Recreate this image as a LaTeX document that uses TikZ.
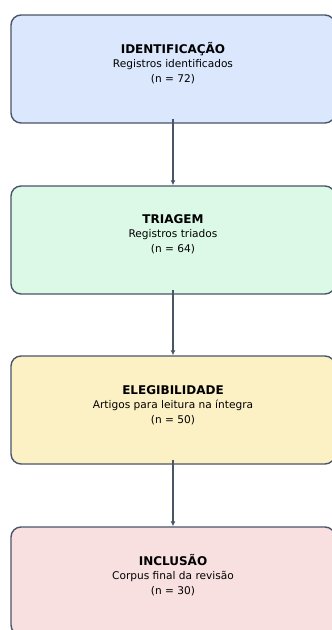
\documentclass[tikz,border=0pt]{standalone}
\usepackage{fontspec}
\setmainfont{DejaVu Sans}
\usetikzlibrary{arrows.meta}
\definecolor{bordc}{HTML}{4A5568}
\definecolor{cblue}{HTML}{DAE7FC}
\definecolor{cgreen}{HTML}{DCF9E7}
\definecolor{cyellow}{HTML}{FCF0C5}
\definecolor{cpink}{HTML}{F8DFE0}
\tikzset{
  stagebox/.style={draw=bordc, line width=1.4pt, rounded corners=10pt, minimum width=324pt, minimum height=108pt, inner sep=0pt},
  stagetext/.style={align=center, text=black, font=\fontsize{10.6}{14.5}\selectfont},
  flowarrow/.style={draw=bordc, line width=2pt, -{Latex[length=5pt,width=5pt]}}
}
\begin{document}
\begin{tikzpicture}[x=1pt,y=-1pt]
\useasboundingbox (0,0) rectangle (332,630);
\clip (0,0) rectangle (332,630);
\node[stagebox, fill=cblue] (b1) at (173,69) {};
\node[stagebox, fill=cgreen] (b2) at (173,240) {};
\node[stagebox, fill=cyellow] (b3) at (173,410) {};
\node[stagebox, fill=cpink] (b4) at (173,581) {};
\node[stagetext] (t1) at (173,63) {{\bfseries\fontsize{12}{14.5}\selectfont IDENTIFICAÇÃO}\\Registros identificados\\(n = 72)};
\node[stagetext] (t2) at (173,234) {{\bfseries\fontsize{12}{14.5}\selectfont TRIAGEM}\\Registros triados\\(n = 64)};
\node[stagetext] (t3) at (173,405) {{\bfseries\fontsize{12}{14.5}\selectfont ELEGIBILIDADE}\\Artigos para leitura na íntegra\\(n = 50)};
\node[stagetext] (t4) at (173,575) {{\bfseries\fontsize{12}{14.5}\selectfont INCLUSÃO}\\Corpus final da revisão\\(n = 30)};
\draw[flowarrow] ([yshift=5pt]b1.south) -- (b2.north);
\draw[flowarrow] ([yshift=5pt]b2.south) -- (b3.north);
\draw[flowarrow] ([yshift=5pt]b3.south) -- (b4.north);
\end{tikzpicture}
\end{document}
